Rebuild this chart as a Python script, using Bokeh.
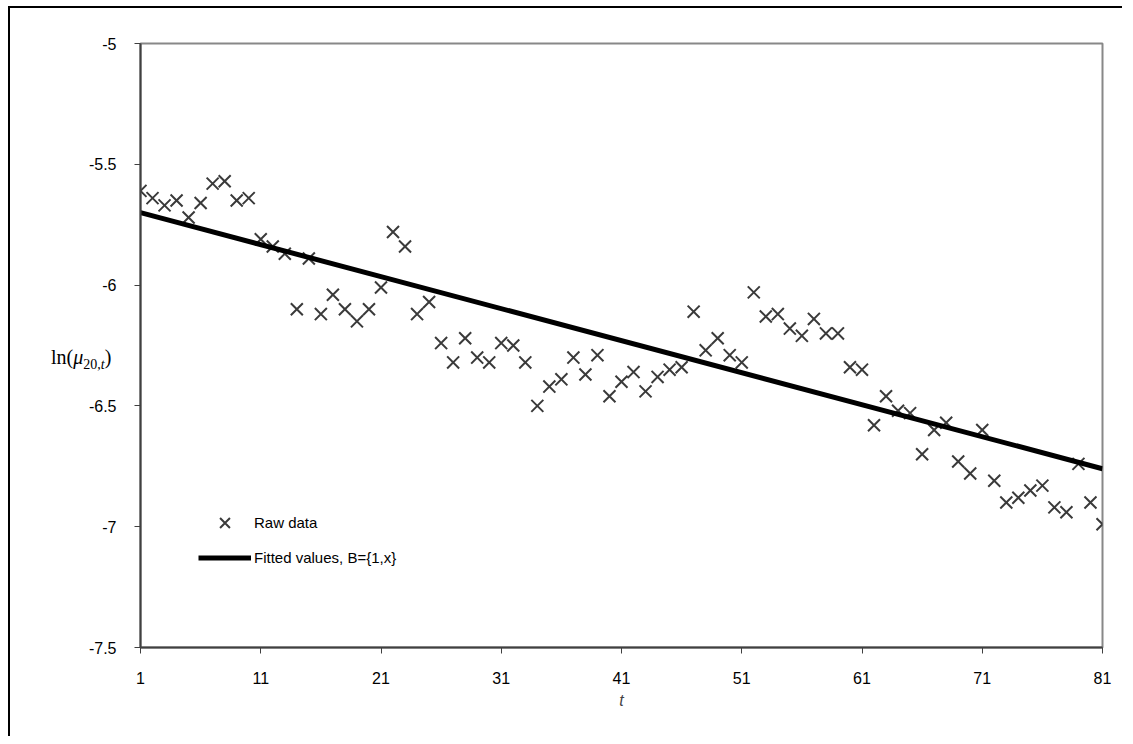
from bokeh.plotting import figure
from bokeh.models import FixedTicker, Legend, LegendItem, Range1d, Div
from bokeh.embed import file_html
from bokeh.resources import INLINE

# ---- data ----
t = list(range(1, 82))
raw = [-5.61, -5.64, -5.67, -5.65, -5.72, -5.66, -5.58, -5.57, -5.65, -5.64,
       -5.81, -5.84, -5.87, -6.10, -5.89, -6.12, -6.04, -6.10, -6.15, -6.10,
       -6.01, -5.78, -5.84, -6.12, -6.07, -6.24, -6.32, -6.22, -6.30, -6.32,
       -6.24, -6.25, -6.32, -6.50, -6.42, -6.39, -6.30, -6.37, -6.29, -6.46,
       -6.40, -6.36, -6.44, -6.38, -6.35, -6.34, -6.11, -6.27, -6.22, -6.29,
       -6.32, -6.03, -6.13, -6.12, -6.18, -6.21, -6.14, -6.20, -6.20, -6.34,
       -6.35, -6.58, -6.46, -6.52, -6.53, -6.70, -6.60, -6.57, -6.73, -6.78,
       -6.60, -6.81, -6.90, -6.88, -6.85, -6.83, -6.92, -6.94, -6.74, -6.90,
       -6.99]
fit_t = [1, 81]
fit_y = [-5.70, -6.76]
x_ticks = [1, 11, 21, 31, 41, 51, 61, 71, 81]
y_ticks = [-7.5, -7.0, -6.5, -6.0, -5.5, -5.0]
y_tick_labels = {-7.5: "-7.5", -7.0: "-7", -6.5: "-6.5", -6.0: "-6", -5.5: "-5.5", -5.0: "-5"}

SANS = "Liberation Sans"

p = figure(width=1114, height=730, output_backend="svg", toolbar_location=None,
           x_range=Range1d(1, 81), y_range=Range1d(-7.5, -5.0),
           min_border_left=130, min_border_right=22, min_border_top=35, min_border_bottom=91)
p.styles = {"border-left": "2px solid black", "border-top": "2px solid black",
            "margin-left": "8px", "margin-top": "6px"}
p.xgrid.visible = False
p.ygrid.visible = False
p.outline_line_color = "#888888"
p.outline_line_width = 2
p.background_fill_color = "white"
p.border_fill_color = "white"

for ax in (p.xaxis[0], p.yaxis[0]):
    ax.axis_line_color = "#404040"
    ax.axis_line_width = 2
    ax.major_tick_line_color = "#404040"
    ax.major_tick_line_width = 1
    ax.major_tick_in = 0
    ax.major_tick_out = 6
    ax.minor_tick_line_color = None
    ax.major_label_text_font = SANS
    ax.major_label_text_font_size = "16px"
    ax.major_label_text_color = "black"

p.xaxis.ticker = FixedTicker(ticks=x_ticks)
p.yaxis.ticker = FixedTicker(ticks=y_ticks)
p.yaxis.major_label_overrides = y_tick_labels
p.xaxis.major_label_standoff = 18
p.yaxis.major_label_standoff = 18
p.xaxis.axis_label = "t"
p.xaxis.axis_label_text_font = SANS
p.xaxis.axis_label_text_font_style = "italic"
p.xaxis.axis_label_text_font_size = "16px"
p.xaxis.axis_label_standoff = 5

sc = p.scatter(t, raw, marker="x", size=17, line_color="#3a3a3a", line_width=2)
ln = p.line(fit_t, fit_y, line_color="black", line_width=5)

legend = Legend(items=[LegendItem(label="Raw data", renderers=[sc]),
                       LegendItem(label="Fitted values, B={1,x}", renderers=[ln])],
                location=(58, 72), orientation="vertical",
                glyph_width=53, glyph_height=35, label_height=35, spacing=0,
                label_standoff=3, padding=0, margin=0,
                border_line_color=None, background_fill_alpha=0,
                label_text_font=SANS, label_text_font_size="15px", label_text_color="black")
p.add_layout(legend, "center")

# y axis label ln(mu_{20,t}) as an HTML overlay (horizontal, left of the axis)
ylab = Div(text=("<span style=\"font-family:'Liberation Serif';font-size:20px;color:black;white-space:nowrap\">"
                 "ln(<i>&mu;</i><sub style=\"font-size:14px\">20,<i>t</i></sub>)</span>"),
           styles={"position": "absolute", "left": "46px", "top": "338px"})

open("out.html", "w").write(file_html([p, ylab], INLINE))
